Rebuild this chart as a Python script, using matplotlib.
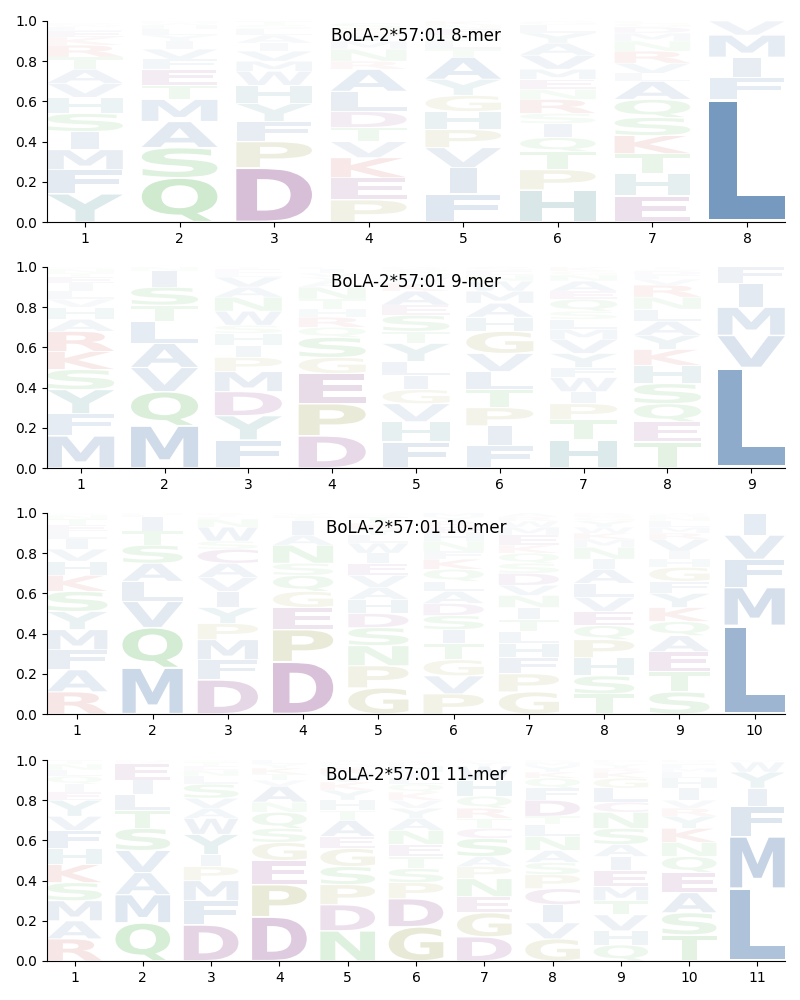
import matplotlib
matplotlib.use('Agg')
import matplotlib.pyplot as plt
from matplotlib.textpath import TextPath
from matplotlib.patches import PathPatch
from matplotlib.font_manager import FontProperties
from matplotlib.transforms import Affine2D

# -------- DATA: letter + percent, listed bottom to top for each position --------
titles = ['BoLA-2*57:01 8-mer', 'BoLA-2*57:01 9-mer',
          'BoLA-2*57:01 10-mer', 'BoLA-2*57:01 11-mer']

mer8 = [
    'Y14 F12 M10 I9 S9 H8 V7 A7 T6 R6 K4 E3 L2 W1 P1',
    'Q22 S15 A13 M11 T7 E8 F5 V5 I4 Y3 L3 H2 W1 N1',
    'D27 P13 F10 Y9 H9 W7 M5 V5 I4 A4 L3 S2 T2',
    'P11 E11 K10 V8 T7 D8 L10 A11 R4 N6 M4 Y3 G3 S3',
    'F14 I13 V10 P9 H9 G8 Y8 A11 T4 L4 S3 E3 N2 K2',
    'H16 P10 T9 Q7 I7 S5 R7 N5 E5 M5 V7 A6 Y5 L4 G2',
    'E13 H11 T10 K9 S9 Q9 A9 L4 V5 R6 N5 M4 D3 G2 F1',
    'L61 F11 I10 M11 V7',
]

mer9 = [
    'M16 F11 Y12 S10 K9 R10 A6 H6 V4 L4 I4 E3 T2 N2 Q1',
    'M21 Q17 V12 A12 L11 T8 S9 I8 N2',
    'F14 Y12 D12 M10 P7 I6 H6 S4 W7 N7 A5 V5 L2 E2 T1',
    'D16 P16 E15 G8 S10 Q5 R5 H4 T5 N6 A3 Y2 V2 I2 L1',
    'F13 H10 V9 G7 I7 L7 Y9 T6 S8 E5 A7 K4 W3 N2 Q2 R1',
    'F11 I10 P9 T9 L9 V9 G11 H7 A7 M6 W5 N3 E2 S2',
    'H14 T10 P8 I6 W7 F5 Y7 V7 M5 L5 S4 Q6 E4 A5 N3 G2 K2',
    'T13 E10 Q9 S10 H9 K8 Y7 A7 L6 N6 R6 V3 F2 D2 G1 I1',
    'L50 V16 M14 I12 F8',
]

mer10 = [
    'R11 A11 F10 M10 Y9 S10 K8 H7 V6 I5 L4 E3 T3 N2 Q1',
    'M23 Q20 V13 L10 A9 S9 T7 I7 E1 N1',
    'D17 F10 M10 P8 Y8 I8 V7 A7 C7 S4 W7 N4 E1 T1 K1',
    'D26 P16 E11 G8 Q8 S6 N9 A5 I7 T2 K1 V1',
    'G13 P11 N10 S9 D7 H7 A6 V6 E6 I5 W5 L4 Y3 K3 T3 R1 Q1',
    'P10 V9 G8 T8 I7 S7 D6 A6 L5 Q6 K5 F4 N5 H4 E3 R3 Y2 M2',
    'G11 P9 F8 H7 L6 T6 I6 N6 V5 D6 S5 Q5 K4 E5 M4 W3 R2 A2',
    'T10 S9 H9 P9 Q7 E7 V7 L7 A7 I5 N6 M4 K3 W3 Y3 G2 D1 R1',
    'S11 T10 E10 A8 Q7 K7 Y7 F6 G7 H4 I4 V6 R3 M3 L3 N2 D1 W1',
    'L44 M19 F14 V12 I11',
]

mer11 = [
    'R11 A9 M10 S9 K9 H8 F9 V7 Y8 E4 I4 Q4 L3 N3 T2',
    'Q19 M14 A11 V11 S11 T9 L8 I7 E8 R1 N1',
    'D18 F12 M10 P7 I6 Y10 W8 A5 V5 S7 L4 N3 E2 T2 Q1',
    'D22 P16 E12 G9 S7 Q8 N5 A8 V3 T3 K3 Y2 L2',
    'N15 D13 P10 S9 G9 E6 A8 T5 H5 Y5 K4 V4 R3 Q2 L1 I1',
    'G17 D14 P8 S7 T6 E6 N7 A6 Y5 V4 K4 Q4 L3 I3 H3 R2 M1',
    'D12 G12 E8 N9 P6 A5 S9 C5 T5 R5 Q6 H8 W7 Y2 K1',
    'G11 V8 I9 C8 P7 S6 A6 N7 L6 T4 D8 F6 Q5 K3 Y3 M2 R1',
    'Q8 H7 V8 T7 M7 E8 I7 A6 S8 N8 C5 L7 G5 K3 R2 Y2 F1 D1',
    'T13 S11 A10 E10 Q8 N7 K7 Y6 R4 V4 I6 H5 L3 M2 F2 G1 D1',
    'L36 M26 F15 I9 Y8 W5 V1',
]

panels = [mer8, mer9, mer10, mer11]

# cores por grupo de residuo
grupos = {
    'AVLIMFW': (32, 88, 152),
    'DEC': (110, 20, 110),
    'STNQ': (40, 160, 40),
    'KR': (190, 30, 30),
    'HY': (20, 110, 115),
    'PG': (130, 130, 20),
}
cores = {}
for letras, rgb in grupos.items():
    for l in letras:
        cores[l] = tuple(c / 255 for c in rgb)

prop = FontProperties(family='DejaVu Sans', weight='bold')
largura_E = TextPath((0, 0), 'E', size=1, prop=prop).get_extents().width


def desenha_letra(ax, ch, x, y, h, width=0.8, vpad=0.05):
    tp = TextPath((0, 0), ch, size=1, prop=prop)
    bb = tp.get_extents()
    sx = width / max(bb.width, largura_E)
    cw = sx * bb.width
    sy = h * (1 - vpad) / bb.height
    t = Affine2D().translate(-bb.x0, -bb.y0).scale(sx, sy).translate(x - cw / 2, y + h * vpad / 2)
    ax.add_patch(PathPatch(t.transform_path(tp), facecolor=cores[ch], edgecolor='none',
                           lw=0, alpha=min(h, 1.0)))


fig = plt.figure(figsize=(8, 10), dpi=100)
bottoms = [0.778, 0.532, 0.286, 0.039]

for painel, titulo, b in zip(panels, titles, bottoms):
    ax = fig.add_axes([0.059, b, 0.922, 0.201])
    for i, coluna in enumerate(painel):
        pos = i + 1
        y = 0.0
        for item in coluna.split():
            letra, pct = item[0], int(item[1:]) / 100
            desenha_letra(ax, letra, pos, y, pct)
            y += pct
    n = len(painel)
    ax.set_xlim(0.6, n + 0.4)
    ax.set_ylim(0, 1)
    ax.set_xticks(range(1, n + 1))
    ax.set_yticks([0, 0.2, 0.4, 0.6, 0.8, 1.0])
    ax.spines['top'].set_visible(False)
    ax.spines['right'].set_visible(False)
    ax.text(0.5, 0.925, titulo, transform=ax.transAxes, ha='center', va='center',
            fontsize=12, zorder=10)

fig.savefig('out.png', dpi=100)
